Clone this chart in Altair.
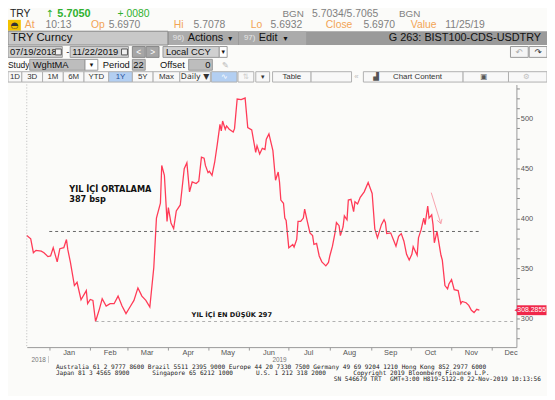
import altair as alt
import pandas as pd

# ---------------- data ----------------
dates = [
    "2018-12-15", "2018-12-18", "2018-12-20", "2018-12-22", "2018-12-26", "2018-12-28", "2018-12-31",
    "2019-01-02", "2019-01-04", "2019-01-07", "2019-01-09", "2019-01-12", "2019-01-14", "2019-01-15",
    "2019-01-17", "2019-01-20", "2019-01-22", "2019-01-25", "2019-01-29", "2019-01-30", "2019-02-01",
    "2019-02-03", "2019-02-05", "2019-02-08", "2019-02-10", "2019-02-13", "2019-02-16", "2019-02-19",
    "2019-02-22", "2019-02-25", "2019-02-28", "2019-03-03", "2019-03-06", "2019-03-09", "2019-03-12",
    "2019-03-15", "2019-03-18", "2019-03-21", "2019-03-23", "2019-03-26", "2019-03-27", "2019-03-29",
    "2019-03-31", "2019-04-01", "2019-04-03", "2019-04-05", "2019-04-07", "2019-04-10", "2019-04-13",
    "2019-04-15", "2019-04-17", "2019-04-19", "2019-04-22", "2019-04-24", "2019-04-26", "2019-04-28",
    "2019-04-29", "2019-05-01", "2019-05-02", "2019-05-04", "2019-05-06", "2019-05-08", "2019-05-10",
    "2019-05-11", "2019-05-12", "2019-05-14", "2019-05-15", "2019-05-17", "2019-05-20", "2019-05-21",
    "2019-05-23", "2019-05-26", "2019-05-29", "2019-05-31", "2019-06-03", "2019-06-06", "2019-06-07",
    "2019-06-09", "2019-06-11", "2019-06-13", "2019-06-14", "2019-06-16", "2019-06-19", "2019-06-21",
    "2019-06-23", "2019-06-24", "2019-06-25", "2019-06-27", "2019-06-28", "2019-06-29", "2019-07-01",
    "2019-07-02", "2019-07-04", "2019-07-05", "2019-07-07", "2019-07-08", "2019-07-10", "2019-07-12",
    "2019-07-13", "2019-07-15", "2019-07-17", "2019-07-19", "2019-07-20", "2019-07-22", "2019-07-24",
    "2019-07-26", "2019-07-29", "2019-07-31", "2019-08-01", "2019-08-03", "2019-08-05", "2019-08-06",
    "2019-08-08", "2019-08-09", "2019-08-11", "2019-08-12", "2019-08-14", "2019-08-15", "2019-08-17",
    "2019-08-19", "2019-08-20", "2019-08-22", "2019-08-24", "2019-08-27", "2019-08-30", "2019-08-31",
    "2019-09-02", "2019-09-04", "2019-09-06", "2019-09-09", "2019-09-11", "2019-09-12", "2019-09-13",
    "2019-09-16", "2019-09-18", "2019-09-20", "2019-09-22", "2019-09-24", "2019-09-26", "2019-09-28",
    "2019-09-30", "2019-10-02", "2019-10-03", "2019-10-06", "2019-10-07", "2019-10-09", "2019-10-11",
    "2019-10-12", "2019-10-14", "2019-10-15", "2019-10-17", "2019-10-18", "2019-10-19", "2019-10-21",
    "2019-10-22", "2019-10-24", "2019-10-25", "2019-10-27", "2019-10-29", "2019-10-30", "2019-11-01",
    "2019-11-03", "2019-11-06", "2019-11-08", "2019-11-09", "2019-11-12", "2019-11-14", "2019-11-16",
    "2019-11-18", "2019-11-20", "2019-11-22",
]
values = [
    382.9, 379.6, 365.8, 368.1, 367.4, 365.8, 361.9,
    362.5, 370.8, 356.6, 369.8, 370.8, 379.0, 369.1,
    356.0, 332.9, 336.2, 318.8, 327.9, 314.8, 319.0,
    318.1, 297.0, 309.9, 319.7, 312.5, 314.8, 314.8,
    322.4, 312.5, 304.9, 311.5, 318.1, 330.6, 322.4,
    318.1, 311.5, 351.0, 400.4, 415.2, 453.0, 443.2,
    397.0, 410.8, 395.4, 389.8, 407.6, 413.5, 449.7,
    455.6, 426.6, 436.5, 434.9, 437.2, 461.2, 460.2,
    453.0, 445.8, 447.1, 443.2, 456.2, 474.4, 494.1,
    487.5, 497.4, 489.2, 492.5, 489.2, 486.5, 489.8,
    519.4, 518.8, 520.4, 490.8, 488.5, 466.1, 472.7,
    464.5, 470.1, 468.8, 479.3, 484.6, 467.8, 438.2,
    446.4, 436.5, 418.4, 415.2, 400.4, 398.0, 370.8,
    371.8, 374.0, 371.4, 379.0, 397.0, 397.0, 400.4,
    409.3, 397.0, 385.6, 382.9, 374.0, 375.0, 362.5,
    356.6, 352.6, 356.0, 362.5, 372.3, 386.2, 396.0,
    392.8, 382.9, 391.5, 402.6, 398.7, 418.4, 419.1,
    406.9, 416.8, 414.5, 421.1, 426.6, 435.9, 432.3,
    425.0, 389.5, 380.6, 393.8, 398.7, 396.0, 384.9,
    385.6, 379.0, 372.3, 382.2, 384.9, 377.3, 364.2,
    358.5, 364.2, 371.8, 363.2, 380.6, 388.8, 400.4,
    393.8, 412.5, 400.4, 403.6, 393.8, 375.7, 387.1,
    379.0, 363.2, 358.5, 332.9, 329.6, 334.5, 338.8,
    328.9, 327.9, 314.8, 317.1, 315.8, 313.1, 308.2,
    305.9, 309.2, 308.3,
]
last_value = [308.2855]
last_label = ["308.2855"]

avg_value = [387]
avg_span = ["2019-01-01", "2019-11-22"]
min_value = [297]
min_span = ["2019-02-05", "2019-12-19"]

month_labels = ["Jan", "Feb", "Mar", "Apr", "May", "Jun", "Jul", "Aug", "Sep", "Oct", "Nov", "Dec"]
month_mid = ["2019-%02d-16" % m for m in range(1, 13)]
year_labels = ["2018", "2019"]
year_pos = ["2018-12-24", "2019-06-24"]

df = pd.DataFrame({"date": dates, "value": values})
avg_df = pd.DataFrame({"date": [avg_span[0]], "date_end": [avg_span[1]], "value": avg_value})
min_df = pd.DataFrame({"date": [min_span[0]], "date_end": [min_span[1]], "value": min_value})
last_df = pd.DataFrame({"value": last_value, "label": last_label})
mon_df = pd.DataFrame({"date": month_mid, "label": month_labels})
yr_df = pd.DataFrame({"date": year_pos, "label": year_labels})
one = pd.DataFrame({"k": [0]})

# ---------------- helpers (screen coordinates -> plot coordinates) ----------------
OX, OY = 27, 83
SANS = "Liberation Sans"
DJ = "DejaVu Sans"


def T(s, x, y, size=10.5, color="#111111", weight="normal", align="left", font=SANS):
    return alt.Chart(one).mark_text(
        text=s, align=align, baseline="middle", fontSize=size, color=color,
        fontWeight=weight, font=font
    ).encode(x=alt.value(x - OX), y=alt.value(y - OY))


def R(x1, y1, x2, y2, fill, stroke=None, sw=1):
    kw = dict(fill=fill)
    if stroke:
        kw.update(stroke=stroke, strokeWidth=sw)
    else:
        kw.update(strokeWidth=0)
    return alt.Chart(one).mark_rect(**kw).encode(
        x=alt.value(x1 - OX), x2=alt.value(x2 - OX),
        y=alt.value(y1 - OY), y2=alt.value(y2 - OY))


def L(x1, y1, x2, y2, color, w=1.0, dash=None):
    kw = dict(color=color, strokeWidth=w)
    if dash:
        kw["strokeDash"] = dash
    return alt.Chart(one).mark_rule(**kw).encode(
        x=alt.value(x1 - OX), x2=alt.value(x2 - OX),
        y=alt.value(y1 - OY), y2=alt.value(y2 - OY))


# ---------------- scales / axes ----------------
xs = alt.Scale(type="utc", domain=[alt.DateTime(year=2018, month=12, date=15, utc=True),
                                   alt.DateTime(year=2019, month=12, date=20, utc=True)])
xaxis = alt.Axis(values=[alt.DateTime(year=2019, month=m, date=1, utc=True) for m in range(1, 13)],
                 labels=False, tickSize=3, tickColor="#999999", domainColor="#999999",
                 grid=False, title=None)
ys = alt.Scale(domain=[271.4, 533.9], nice=False, zero=False)
yaxis = alt.Axis(orient="right", values=list(range(280, 531, 10)),
                 labelExpr="datum.value % 50 == 0 ? datum.label : ''",
                 tickSize=3, tickColor="#888888", domainColor="#999999", labelColor="#555555",
                 labelFontSize=7.5, labelFont=SANS, labelPadding=1, grid=False, title=None)

X_ENC = alt.X("date:T", scale=xs, axis=xaxis)
Y_ENC = alt.Y("value:Q", scale=ys, axis=yaxis)

RED = "#ff3b57"
GREEN = "#2fb12f"
ORANGE = "#f2a455"
GRAY = "#808080"

layers = []

# main line (defines axes)
layers.append(alt.Chart(df).mark_line(color=RED, strokeWidth=1.3).encode(x=X_ENC, y=Y_ENC))

# reference lines
layers.append(alt.Chart(avg_df).mark_rule(color="#666666", strokeDash=[3, 3], strokeWidth=1)
              .encode(x=X_ENC, x2="date_end:T", y=Y_ENC))
layers.append(alt.Chart(min_df).mark_rule(color="#b0b0b0", strokeDash=[3, 3], strokeWidth=1)
              .encode(x=X_ENC, x2="date_end:T", y=Y_ENC))

# left dotted border
layers.append(L(27, 83, 27, 349, "#bbbbbb", 1, [1, 2]))

# month & year labels
layers.append(alt.Chart(mon_df).mark_text(fontSize=7.5, color="#555555", font=SANS, baseline="middle")
              .encode(x=X_ENC, y=alt.value(354.5 - OY), text="label:N"))
layers.append(alt.Chart(yr_df).mark_text(fontSize=6.5, color="#777777", font=SANS, baseline="middle")
              .encode(x=X_ENC, y=alt.value(361.8 - OY), text="label:N"))
layers.append(L(49, 358, 49, 365, "#cccccc"))

# annotations
layers.append(T("YIL İÇİ ORTALAMA", 70, 190, 8.3, "#111111", "bold", font=DJ))
layers.append(T("387 bsp", 70, 200.5, 8.3, "#111111", "bold", font=DJ))
layers.append(T("YIL İÇİ EN DÜŞÜK 297", 194, 316.5, 6.7, "#111111", "bold", font=DJ))

# pink arrow
PINK = "#f7a3ae"
layers.append(L(436.7, 192.5, 446.5, 224, PINK, 1))
layers.append(L(446.5, 224, 447.6, 219.1, PINK, 1))
layers.append(L(446.5, 224, 442.8, 220.6, PINK, 1))

# last value tag
layers.append(alt.Chart(last_df).mark_tick(orient="horizontal", thickness=10, size=30, color="#f0284a", opacity=1)
              .encode(x=alt.value(538.5 - OX), y=Y_ENC))
layers.append(alt.Chart(last_df).mark_point(shape="triangle-left", filled=True, size=22, color="#f0284a", opacity=1)
              .encode(x=alt.value(523 - OX), y=Y_ENC))
layers.append(alt.Chart(last_df).mark_text(fontSize=7, color="#ffffff", font=SANS, baseline="middle")
              .encode(x=alt.value(538.5 - OX), y=Y_ENC, text="label:N"))

# footer
MONO = "DejaVu Sans Mono"
FS = 6.2
FC = "#222222"
layers.append(T("Australia 61 2 9777 8600 Brazil 5511 2395 9000 Europe 44 20 7330 7500 Germany 49 69 9204 1210 Hong Kong 852 2977 6000",
                56.5, 368.8, FS, FC, font=MONO))
layers.append(T("Japan 81 3 4565 8900", 56.5, 375.2, FS, FC, font=MONO))
layers.append(T("Singapore 65 6212 1000", 154, 375.2, FS, FC, font=MONO))
layers.append(T("U.S. 1 212 318 2000", 259.3, 375.2, FS, FC, font=MONO))
layers.append(T("Copyright 2019 Bloomberg Finance L.P.", 357.7, 375.2, FS, FC, font=MONO))
layers.append(T("SN 546679 TRT", 338, 381.6, FS, FC, font=MONO))
layers.append(T("GMT+3:00 H819-5122-0 22-Nov-2019 10:13:56", 395, 381.6, FS, FC, font=MONO))

# ---------------- header ----------------
# row 1
R1 = 11.5
layers.append(T("TRY", 10, R1, 10.5, "#222222"))
layers.append(T("↑", 46, R1, 10, GREEN, font=DJ))
layers.append(T("5.7050", 58, R1, 11, GREEN, "bold"))
layers.append(T("+.0080", 119, R1, 10.5, GREEN))
layers.append(T("BGN", 286, R1, 10, GRAY))
layers.append(T("5.7034/5.7065", 316, R1, 10.5, GRAY))
layers.append(T("BGN", 404, R1, 10, GRAY))
# row 2
R2 = 23
layers.append(R(8, 17.5, 21, 28.5, "#f2c200"))
layers.append(T("◓", 14.5, R2, 9, "#333333", align="center", font=DJ))
for s, x, c in [("At", 25, ORANGE), ("10:13", 46, GRAY), ("Op", 92, ORANGE), ("5.6970", 110, GRAY),
                ("Hi", 176, ORANGE), ("5.7078", 196, GRAY), ("Lo", 254, ORANGE), ("5.6932", 274, GRAY),
                ("Close", 330, ORANGE), ("5.6970", 368, GRAY), ("Value", 416, ORANGE), ("11/25/19", 451, GRAY)]:
    layers.append(T(s, x, R2, 10.5, c))
# row 3
layers.append(R(8, 29, 555, 43, "#9a9a9a"))
layers.append(R(8, 29, 170, 43, "#c8c8c8", "#8a8a8a"))
layers.append(T("TRY Curncy", 11, 36, 11.5, "#111111"))
layers.append(R(171, 29, 241, 43, "#ababab"))
layers.append(T("96)", 175, 36, 8, "#e6e6e6"))
layers.append(T("Actions", 190, 36, 11, "#111111"))
layers.append(T("▾", 231, 37, 8, "#111111", font=DJ))
layers.append(R(242, 29, 310, 43, "#ababab"))
layers.append(T("97)", 247, 36, 8, "#e6e6e6"))
layers.append(T("Edit", 262, 36, 11, "#111111"))
layers.append(T("▾", 287, 37, 8, "#111111", font=DJ))
layers.append(T("G 263: BIST100-CDS-USDTRY", 548, 36, 11, "#111111", align="right"))
# row 4
BOX = "#d0d0d0"
EDGE = "#999999"
R4 = 50
layers.append(R(8, 44.5, 63, 55.5, BOX, EDGE))
layers.append(T("07/19/2018", 10, R4, 9.5))
layers.append(R(56, 47, 62, 53, "#f0f0f0", "#555555"))
layers.append(T("-", 67, R4, 9.5))
layers.append(R(71, 44.5, 130, 55.5, BOX, EDGE))
layers.append(T("11/22/2019", 73, R4, 9.5))
layers.append(R(123, 47, 129, 53, "#f0f0f0", "#555555"))
layers.append(R(134, 44.5, 147, 55.5, "#a6a6a6", "#888888"))
layers.append(T("<", 140.5, R4, 8.5, "#ffffff", align="center"))
layers.append(R(148, 44.5, 161, 55.5, "#a6a6a6", "#888888"))
layers.append(T(">", 154.5, R4, 8.5, "#ffffff", align="center"))
layers.append(R(165, 44.5, 222, 55.5, BOX, EDGE))
layers.append(T("Local CCY", 168, R4, 9.5))
layers.append(R(222, 44.5, 230, 55.5, "#ffffff", EDGE))
layers.append(T("▾", 226, R4 + 0.5, 7, "#111111", align="center", font=DJ))
layers.append(R(517, 44.5, 535, 55.5, "#f5f5f5", EDGE))
layers.append(T("↶", 526, R4, 8.5, "#aaaaaa", align="center", font=DJ))
layers.append(R(536, 44.5, 554, 55.5, "#f5f5f5", EDGE))
layers.append(T("↷", 545, R4, 8.5, "#333333", align="center", font=DJ))
# row 5
R5 = 63
layers.append(T("Study", 8, R5, 8.5))
layers.append(R(30, 57.5, 86, 68.5, "#bdbdbd", EDGE))
layers.append(T("WghtMA", 33, R5, 9.5))
layers.append(R(86, 57.5, 99, 68.5, "#ffffff", EDGE))
layers.append(T("▾", 92.5, R5 + 0.5, 7, "#111111", align="center", font=DJ))
layers.append(T("Period", 104, R5, 9.5))
layers.append(R(134, 57.5, 147, 68.5, "#bdbdbd", EDGE))
layers.append(T("22", 145.5, R5, 9.5, align="right"))
layers.append(T("Offset", 162, R5, 9.5))
layers.append(R(191, 57.5, 215, 68.5, "#bdbdbd", EDGE))
layers.append(T("0", 213, R5, 9.5, align="right"))
layers.append(T("✎", 228, R5, 8.5, "#bbbbbb", align="center", font=DJ))
# row 6
BTN = "#f8f8f8"
BED = "#b0b0b0"
R6 = 75.3
for s, x1, x2 in [("1D", 8, 22), ("3D", 22, 43), ("1M", 43, 64), ("6M", 64, 85), ("YTD", 85, 110),
                  ("1Y", 110, 134), ("5Y", 134, 155), ("Max", 155, 182), ("Daily ▼", 182, 213)]:
    sel = s == "1Y"
    layers.append(R(x1, 70, x2, 80.5, "#b3cff2" if sel else BTN, BED))
    layers.append(T(s, (x1 + x2) / 2, R6, 8, "#1f4e9a" if sel else "#333333", align="center",
                    font=DJ if "▼" in s else SANS))
layers.append(R(214, 70, 240, 80.5, "#b3cff2", BED))
layers.append(T("∿", 227, R6, 8, "#ffffff", align="center", font=DJ))
layers.append(R(241, 70, 257, 80.5, BTN, BED))
layers.append(T("⇅", 249, R6, 7.5, "#cccccc", align="center", font=DJ))
layers.append(R(259, 70, 273, 80.5, BTN, BED))
layers.append(T("▾", 266, R6, 7, "#333333", align="center", font=DJ))
layers.append(R(276, 70, 315, 80.5, BTN, BED))
layers.append(T("Table", 295.5, R6, 8, "#333333", align="center"))
layers.append(R(315, 70, 356, 80.5, BTN, BED))
layers.append(T("«", 361, R6, 8, "#bbbbbb", align="center"))
layers.append(R(368, 70, 469, 80.5, BTN, BED))
layers.append(T("▟", 381, R6, 7.5, "#555555", align="center", font=DJ))
layers.append(T("Chart Content", 398, R6, 8, "#333333"))
layers.append(R(469, 70, 515, 80.5, BTN, BED))
layers.append(T("▣", 490, R6, 7.5, "#555555", align="center", font=DJ))
layers.append(R(515, 70, 554, 80.5, BTN, BED))
layers.append(T("⚙", 533, R6, 7.5, "#c0c0c0", align="center", font=DJ))

chart = alt.layer(*layers).properties(
    width=496,
    height=266,
    padding={"left": 19, "top": 75, "right": 31, "bottom": 47},
    autosize=alt.AutoSizeParams(type="none"),
    background="#fbfbf9",
).configure_view(stroke=None)

chart.save("out.html", embed_options={"renderer": "svg", "actions": False})
